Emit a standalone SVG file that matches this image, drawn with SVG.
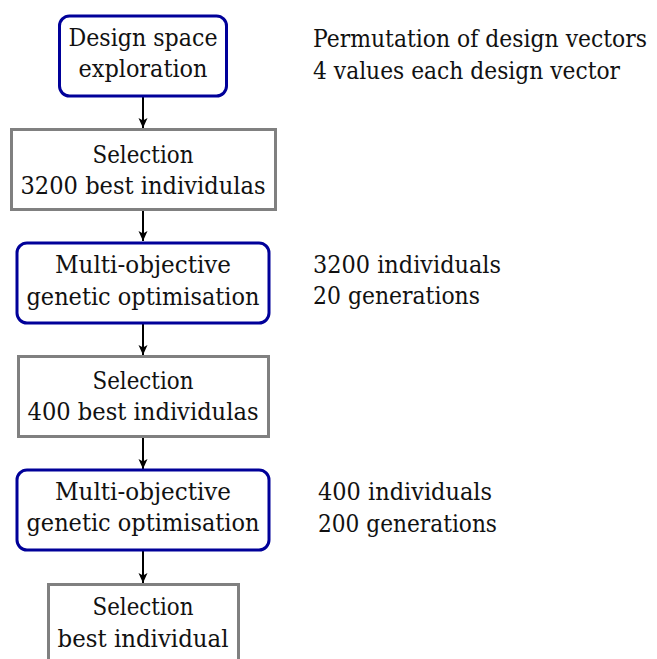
<svg xmlns="http://www.w3.org/2000/svg" width="657" height="659" viewBox="0 0 657 659">
<defs>
<style>
.c{text-anchor:middle}
.b{fill:#fff;stroke:#000099;stroke-width:3}
.g{fill:#fff;stroke:#808080;stroke-width:3}
.e{stroke:#000;stroke-width:2;fill:none}
</style>
<marker id="ah" markerWidth="11" markerHeight="11" refX="10" refY="5.5" orient="auto" markerUnits="userSpaceOnUse">
<path d="M0,1 L10,5.5 L0,10 L2.5,5.5 Z" fill="#000"/>
</marker>
</defs>
<rect width="657" height="659" fill="#fff"/>
<g id="edges">
<line class="e" x1="143" y1="97" x2="143" y2="128" marker-end="url(#ah)"/>
<line class="e" x1="143" y1="211" x2="143" y2="241" marker-end="url(#ah)"/>
<line class="e" x1="143" y1="324" x2="143" y2="355" marker-end="url(#ah)"/>
<line class="e" x1="143" y1="438" x2="143" y2="469" marker-end="url(#ah)"/>
<line class="e" x1="143" y1="551" x2="143" y2="583" marker-end="url(#ah)"/>
</g>
<g font-family="'DejaVu Serif', serif" font-size="24" fill="#111">
<g id="n1">
<rect class="b" x="59.5" y="16" width="167" height="80" rx="10"/>
<text class="c" x="143" y="46" textLength="149" lengthAdjust="spacingAndGlyphs">Design space</text>
<text class="c" x="143" y="77" textLength="129" lengthAdjust="spacingAndGlyphs">exploration</text>
</g>
<g id="n1note">
<text x="313" y="47" textLength="334" lengthAdjust="spacingAndGlyphs">Permutation of design vectors</text>
<text x="313" y="79" textLength="307" lengthAdjust="spacingAndGlyphs">4 values each design vector</text>
</g>
<g id="n2">
<rect class="g" x="11.5" y="129.5" width="264" height="80"/>
<text class="c" x="143" y="163" textLength="101" lengthAdjust="spacingAndGlyphs">Selection</text>
<text class="c" x="143" y="194" textLength="245" lengthAdjust="spacingAndGlyphs">3200 best individulas</text>
</g>
<g id="n3">
<rect class="b" x="17" y="243" width="252" height="80" rx="10"/>
<text class="c" x="143" y="273" textLength="176" lengthAdjust="spacingAndGlyphs">Multi-objective</text>
<text class="c" x="143" y="305" textLength="233" lengthAdjust="spacingAndGlyphs">genetic optimisation</text>
</g>
<g id="n3note">
<text x="313" y="273" textLength="188" lengthAdjust="spacingAndGlyphs">3200 individuals</text>
<text x="313" y="304" textLength="167" lengthAdjust="spacingAndGlyphs">20 generations</text>
</g>
<g id="n4">
<rect class="g" x="18.5" y="356.5" width="250" height="80"/>
<text class="c" x="143" y="389" textLength="101" lengthAdjust="spacingAndGlyphs">Selection</text>
<text class="c" x="143" y="420" textLength="231" lengthAdjust="spacingAndGlyphs">400 best individulas</text>
</g>
<g id="n5">
<rect class="b" x="17" y="470" width="252" height="80" rx="10"/>
<text class="c" x="143" y="500" textLength="176" lengthAdjust="spacingAndGlyphs">Multi-objective</text>
<text class="c" x="143" y="531" textLength="233" lengthAdjust="spacingAndGlyphs">genetic optimisation</text>
</g>
<g id="n5note">
<text x="318" y="500" textLength="174" lengthAdjust="spacingAndGlyphs">400 individuals</text>
<text x="318" y="532" textLength="179" lengthAdjust="spacingAndGlyphs">200 generations</text>
</g>
<g id="n6">
<rect class="g" x="48.5" y="584.5" width="190" height="110"/>
<text class="c" x="143" y="615" textLength="101" lengthAdjust="spacingAndGlyphs">Selection</text>
<text class="c" x="143" y="647" textLength="171" lengthAdjust="spacingAndGlyphs">best individual</text>
</g>
</g>
</svg>
